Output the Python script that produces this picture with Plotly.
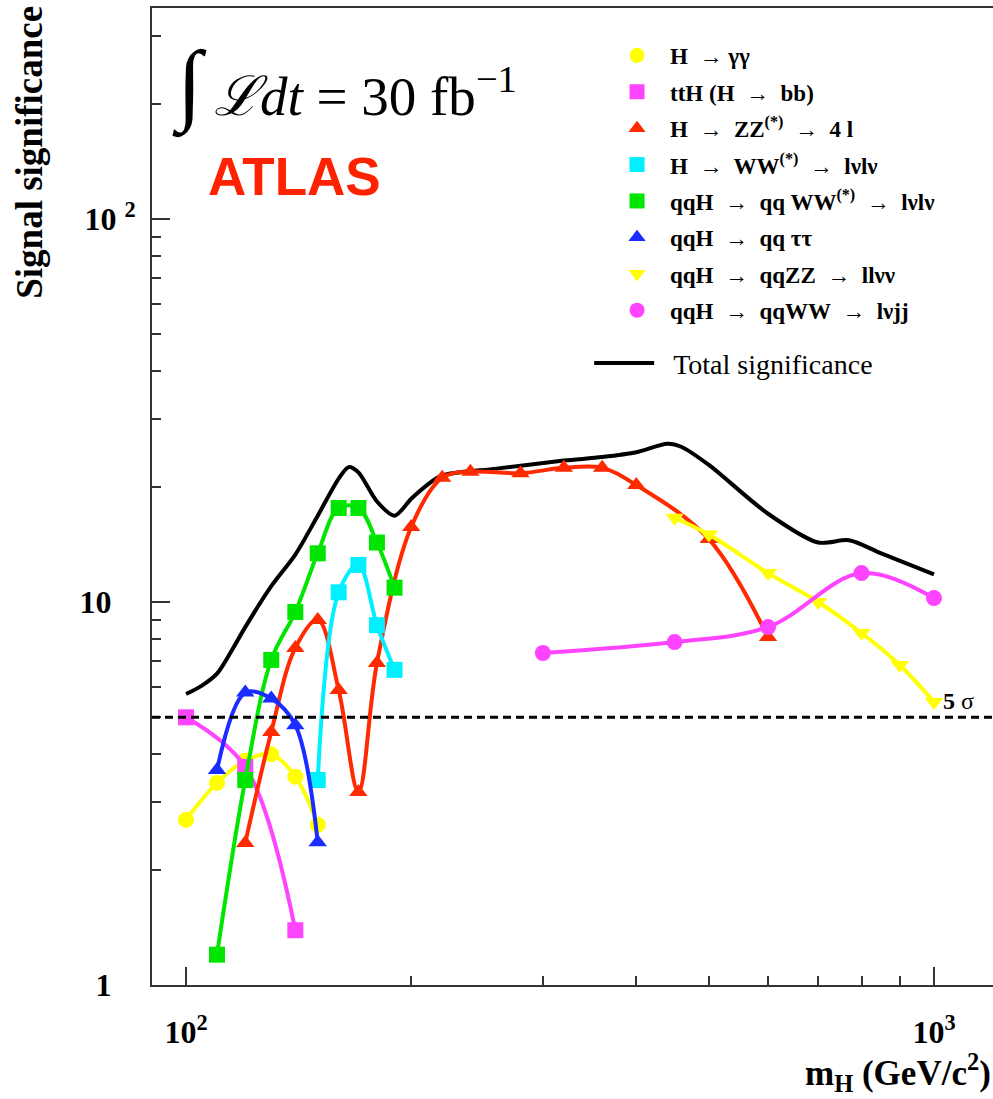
import plotly.graph_objects as go

# ---- signal significance per channel (m_H in GeV, significance in sigma) ----
mass_gg = [100, 110, 120, 130, 140, 150]
sig_gg = [2.70, 3.37, 3.85, 4.00, 3.50, 2.62]

mass_tth = [100, 120, 140]
sig_tth = [5.0, 3.71, 1.39]

mass_zz4l = [120, 130, 140, 150, 160, 170, 180, 200, 220, 240, 280, 320, 360, 400, 500, 600]
sig_zz4l = [2.35, 4.58, 7.59, 8.98, 5.89, 3.19, 6.93, 15.7, 21.1, 21.9, 21.7, 22.4, 22.4, 20.2, 14.6, 8.1]

mass_ww = [150, 160, 170, 180, 190]
sig_ww = [3.43, 10.6, 12.5, 8.7, 6.65]

mass_qqww = [110, 120, 130, 140, 150, 160, 170, 180, 190]
sig_qqww = [1.2, 3.43, 7.06, 9.42, 13.4, 17.6, 17.6, 14.3, 10.9]

mass_qqtautau = [110, 120, 130, 140, 150]
sig_qqtautau = [3.64, 5.80, 5.60, 4.77, 2.36]

mass_llvv = [450, 500, 600, 700, 800, 900, 1000]
sig_llvv = [16.6, 15.0, 11.9, 10.0, 8.3, 6.85, 5.48]

mass_lvjj = [300, 450, 600, 800, 1000]
sig_lvjj = [7.36, 7.86, 8.6, 11.9, 10.24]

mass_total = [100, 105, 110, 115, 120, 130, 140, 150, 160, 165, 170, 180, 190, 200, 210,
              220, 260, 320, 360, 400, 440, 460, 500, 600, 700, 770, 850, 1000]
sig_total = [5.75, 6.05, 6.5, 7.45, 8.6, 11.0, 13.3, 16.8, 21.0, 22.5, 21.8, 18.3, 16.8, 18.6, 20.2,
             21.4, 22.3, 23.4, 23.9, 24.6, 25.9, 25.4, 22.8, 17.0, 14.3, 14.5, 13.4, 11.8]

FIVE_SIGMA = 5.0

x_tickvals = [100, 1000]
x_ticktext = ["10<sup>2</sup>", "10<sup>3</sup>"]
x_minor = [200, 300, 400, 500, 600, 700, 800, 900]
y_tickvals = [1, 10, 100]
y_ticktext = ["1\u00a0\u00a0\u00a0", "10\u00a0\u00a0\u00a0", "10 <sup>2</sup>"]
y_minor = [2, 3, 4, 5, 6, 7, 8, 9, 20, 30, 40, 50, 60, 70, 80, 90, 200, 300]

YELLOW = "#ffff00"
MAGENTA = "#ff44ff"
RED = "#ff2a00"
CYAN = "#00f0ff"
GREEN = "#00e600"
BLUE = "#1a2cff"

channels = [
    ("<b>H  \u2192 \u03b3\u03b3</b>", mass_gg, sig_gg, YELLOW, "circle"),
    ("<b>ttH (H  \u2192  bb)</b>", mass_tth, sig_tth, MAGENTA, "square"),
    ("<b>H  \u2192  ZZ<sup>(*)</sup>  \u2192  4 l</b>", mass_zz4l, sig_zz4l, RED, "triangle-up"),
    ("<b>H  \u2192  WW<sup>(*)</sup>  \u2192  l\u03bdl\u03bd</b>", mass_ww, sig_ww, CYAN, "square"),
    ("<b>qqH  \u2192  qq WW<sup>(*)</sup>  \u2192  l\u03bdl\u03bd</b>", mass_qqww, sig_qqww, GREEN, "square"),
    ("<b>qqH  \u2192  qq \u03c4\u03c4</b>", mass_qqtautau, sig_qqtautau, BLUE, "triangle-up"),
    ("<b>qqH  \u2192  qqZZ  \u2192  ll\u03bd\u03bd</b>", mass_llvv, sig_llvv, YELLOW, "triangle-down"),
    ("<b>qqH  \u2192  qqWW  \u2192  l\u03bdjj</b>", mass_lvjj, sig_lvjj, MAGENTA, "circle"),
]

fig = go.Figure()

# total significance curve
fig.add_trace(go.Scatter(
    x=mass_total, y=sig_total, mode="lines",
    line=dict(color="black", width=4, shape="spline", smoothing=0.8),
    showlegend=False, hoverinfo="skip",
))

for name, xs, ys, color, symbol in channels:
    fig.add_trace(go.Scatter(
        x=xs, y=ys, mode="lines+markers",
        line=dict(color=color, width=4, shape="spline", smoothing=1.0),
        marker=dict(color=color, symbol=symbol, size=16, line=dict(width=0)),
        showlegend=False,
    ))

# legend keys: marker only for the channels
for i, (name, xs, ys, color, symbol) in enumerate(channels):
    fig.add_trace(go.Scatter(
        x=[None], y=[None], mode="markers", name=name,
        marker=dict(color=color, symbol=symbol, size=15, line=dict(width=0)),
        legendgroup=f"ch{i}", legend="legend",
    ))

fig.add_trace(go.Scatter(
    x=[None], y=[None], mode="lines", name="\u00a0\u00a0Total significance",
    line=dict(color="black", width=4), legend="legend2",
))

# 5 sigma discovery threshold
fig.add_shape(type="line", xref="paper", x0=0, x1=1, yref="y", y0=FIVE_SIGMA, y1=FIVE_SIGMA,
              line=dict(color="black", width=3, dash="8px,5px"), layer="above")

serif = "Liberation Serif"

fig.update_layout(
    width=993, height=1099,
    margin=dict(l=152, r=0, t=8, b=114),
    paper_bgcolor="white", plot_bgcolor="white",
    legend=dict(x=0.5375, y=0.9735, xanchor="left", yanchor="top",
                bgcolor="rgba(0,0,0,0)", borderwidth=0,
                font=dict(family=serif, size=23, color="black"),
                tracegroupgap=3.5, itemwidth=56, traceorder="grouped"),
    legend2=dict(x=0.5198, y=0.662, xanchor="left", yanchor="top",
                 bgcolor="rgba(0,0,0,0)", borderwidth=0,
                 font=dict(family=serif, size=28, color="black"),
                 itemwidth=60),
    xaxis=dict(type="log", range=[1.9545, 3.0789],
               tickvals=x_tickvals, ticktext=x_ticktext,
               ticks="inside", ticklen=18, tickwidth=2, tickcolor="#333",
               showline=True, linecolor="#333", linewidth=2, mirror=True,
               showgrid=False, zeroline=False,
               minor=dict(tickvals=x_minor, ticks="inside", ticklen=9, tickwidth=2,
                          tickcolor="#333", showgrid=False),
               tickfont=dict(family=serif, size=32, color="black", weight="bold"),
               ticklabelstandoff=18),
    yaxis=dict(type="log", range=[0, 2.551],
               tickvals=y_tickvals, ticktext=y_ticktext,
               ticks="inside", ticklen=18, tickwidth=2, tickcolor="#333",
               showline=True, linecolor="#333", linewidth=2, mirror=False,
               showgrid=False, zeroline=False,
               minor=dict(tickvals=y_minor, ticks="inside", ticklen=9, tickwidth=2,
                          tickcolor="#333", showgrid=False),
               tickfont=dict(family=serif, size=32, color="black", weight="bold"),
               ticklabelstandoff=8),
    annotations=[
        dict(text="\u222b", xref="paper", yref="paper", x=0.044, y=0.921,
             xanchor="center", yanchor="middle", showarrow=False,
             font=dict(family=serif, size=90, color="black")),
        dict(text="<i>\u2112dt</i> = 30 fb<sup>\u22121</sup>", xref="paper", yref="paper",
             x=0.071, y=0.913, xanchor="left", yanchor="middle", showarrow=False,
             font=dict(family=serif, size=55, color="black")),
        dict(text="<b>ATLAS</b>", xref="paper", yref="paper", x=0.0642, y=0.828,
             xanchor="left", yanchor="middle", showarrow=False,
             font=dict(family="Liberation Sans", size=53, color="#ff2200")),
        dict(text="<b>5</b> \u03c3", xref="x", yref="y", x=3.0095, y=0.699,
             xanchor="left", yanchor="bottom", showarrow=False, yshift=1,
             font=dict(family=serif, size=24, color="black")),
        dict(text="<b>Signal significance</b>", xref="paper", yref="paper",
             x=-0.146, y=1.004, xanchor="center", yanchor="top", textangle=-90,
             showarrow=False, font=dict(family=serif, size=37, color="black")),
        dict(text="<b>m<sub>H</sub> (GeV/c<sup>2</sup>)</b>", xref="paper", yref="paper",
             x=0.9995, y=-0.090, xanchor="right", yanchor="middle", showarrow=False,
             font=dict(family=serif, size=35, color="black")),
    ],
)

fig.write_html("out.html")
